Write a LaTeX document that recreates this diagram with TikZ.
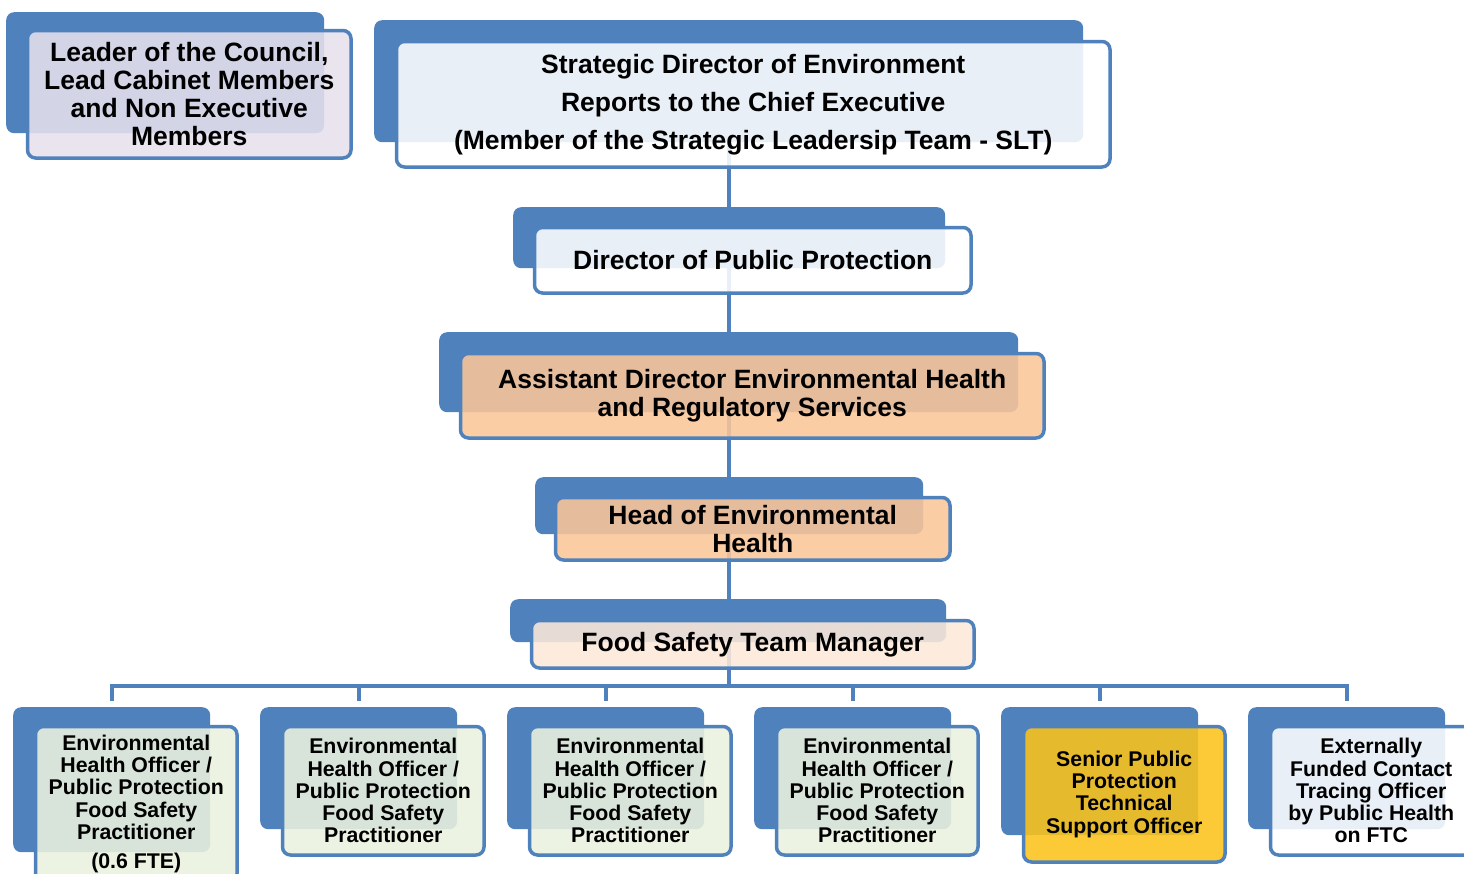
\documentclass[tikz,border=0pt]{standalone}
\usepackage{fontspec}
\setmainfont{Liberation Sans}
\definecolor{bblue}{HTML}{4F81BD}
\definecolor{lav}{HTML}{E6E0EC}
\definecolor{peach}{HTML}{FAC699}
\definecolor{lpeach}{HTML}{FDE9D9}
\definecolor{olive}{HTML}{EBF1DE}
\definecolor{gold}{HTML}{FCC31A}
\tikzset{
  backbox/.style={fill=bblue, rounded corners=8pt, inner sep=0pt, anchor=north west},
  frontbox/.style={draw=bblue, line width=3.5pt, rounded corners=8pt, inner sep=0pt,
    anchor=north west, xshift=1.75pt, yshift=-1.75pt,
    fill opacity=0.88, text opacity=1, align=center},
  bigtext/.style={font=\fontsize{26.5}{28}\selectfont\bfseries},
  smalltext/.style={font=\fontsize{21.3}{22.2}\selectfont\bfseries},
  conn/.style={draw=bblue, line width=4pt},
}
\begin{document}
\begin{tikzpicture}[x=1pt,y=-1pt]
\useasboundingbox (0,0) rectangle (1464,873);
\coordinate (busY) at (0,686);
% back boxes
\node[backbox, minimum width=318, minimum height=121] (bLead) at (6,12) {};
\node[backbox, minimum width=709, minimum height=122] (bStrat) at (374,20) {};
\node[backbox, minimum width=432, minimum height=61] (bDir) at (513,207) {};
\node[backbox, minimum width=579, minimum height=80] (bAsst) at (439,332) {};
\node[backbox, minimum width=388, minimum height=57] (bHead) at (535,477) {};
\node[backbox, minimum width=436, minimum height=43] (bFood) at (510,599) {};
\node[backbox, minimum width=197, minimum height=145] (bE1) at (13,707) {};
\node[backbox, minimum width=197, minimum height=122] (bE2) at (260,707) {};
\node[backbox, minimum width=197, minimum height=122] (bE3) at (507,707) {};
\node[backbox, minimum width=197, minimum height=122] (bE4) at (754,707) {};
\node[backbox, minimum width=197, minimum height=128] (bE5) at (1001,707) {};
\node[backbox, minimum width=197, minimum height=122] (bE6) at (1248,707) {};
% connectors (behind front boxes)
\draw[conn] (bStrat.south) -- (bDir.north -| bStrat.south);
\draw[conn] (bDir.south -| bStrat.south) -- (bAsst.north -| bStrat.south);
\draw[conn] (bAsst.south -| bStrat.south) -- (bHead.north -| bStrat.south);
\draw[conn] (bHead.south -| bStrat.south) -- (bFood.north -| bStrat.south);
\draw[conn] (bFood.south -| bStrat.south) -- (busY -| bStrat.south);
\draw[conn] ([yshift=6pt]bE1.north) -- (bE1.north |- busY) -- (bE6.north |- busY) -- ([yshift=6pt]bE6.north);
\draw[conn] ([yshift=6pt]bE2.north) -- (bE2.north |- busY);
\draw[conn] ([yshift=6pt]bE3.north) -- (bE3.north |- busY);
\draw[conn] ([yshift=6pt]bE4.north) -- (bE4.north |- busY);
\draw[conn] ([yshift=6pt]bE5.north) -- (bE5.north |- busY);
% front boxes
\node[frontbox, bigtext, fill=lav, minimum width=323.5, minimum height=127.5] (lead) at (24,27)
  {Leader of the Council,\\Lead Cabinet Members\\and Non Executive\\Members};
\node[frontbox, font=\fontsize{26.5}{38}\selectfont\bfseries, fill=white, minimum width=713.5, minimum height=125.5] (strat) at (393,38)
  {Strategic Director of Environment\\Reports to the Chief Executive\\(Member of the Strategic Leadersip Team - SLT)};
\node[frontbox, bigtext, fill=white, minimum width=436.5, minimum height=65.5] (dir) at (531,224)
  {Director of Public Protection};
\node[frontbox, bigtext, fill=peach, minimum width=583.5, minimum height=84.5] (asst) at (457,350)
  {Assistant Director Environmental Health\\and Regulatory Services};
\node[frontbox, bigtext, fill=peach, minimum width=394.5, minimum height=62.5] (head) at (552,494)
  {Head of Environmental\\Health};
\node[frontbox, bigtext, fill=lpeach, minimum width=442.5, minimum height=47.5] (food) at (528,617)
  {Food Safety Team Manager};
\node[frontbox, smalltext, fill=olive, minimum width=201.5, minimum height=155] (e1) at (32,723)
  {Environmental\\Health Officer /\\Public Protection\\Food Safety\\Practitioner\\[7pt](0.6 FTE)};
\node[frontbox, smalltext, fill=olive, minimum width=201.5, minimum height=128.5] (e2) at (279,723)
  {Environmental\\Health Officer /\\Public Protection\\Food Safety\\Practitioner};
\node[frontbox, smalltext, fill=olive, minimum width=201.5, minimum height=128.5] (e3) at (526,723)
  {Environmental\\Health Officer /\\Public Protection\\Food Safety\\Practitioner};
\node[frontbox, smalltext, fill=olive, minimum width=201.5, minimum height=128.5] (e4) at (773,723)
  {Environmental\\Health Officer /\\Public Protection\\Food Safety\\Practitioner};
\node[frontbox, smalltext, fill=gold, minimum width=201.5, minimum height=135.5] (e5) at (1020,723)
  {Senior Public\\Protection\\Technical\\Support Officer};
\node[frontbox, smalltext, fill=white, minimum width=201.5, minimum height=128.5] (e6) at (1267,723)
  {Externally\\Funded Contact\\Tracing Officer\\by Public Health\\on FTC};
\end{tikzpicture}
\end{document}
